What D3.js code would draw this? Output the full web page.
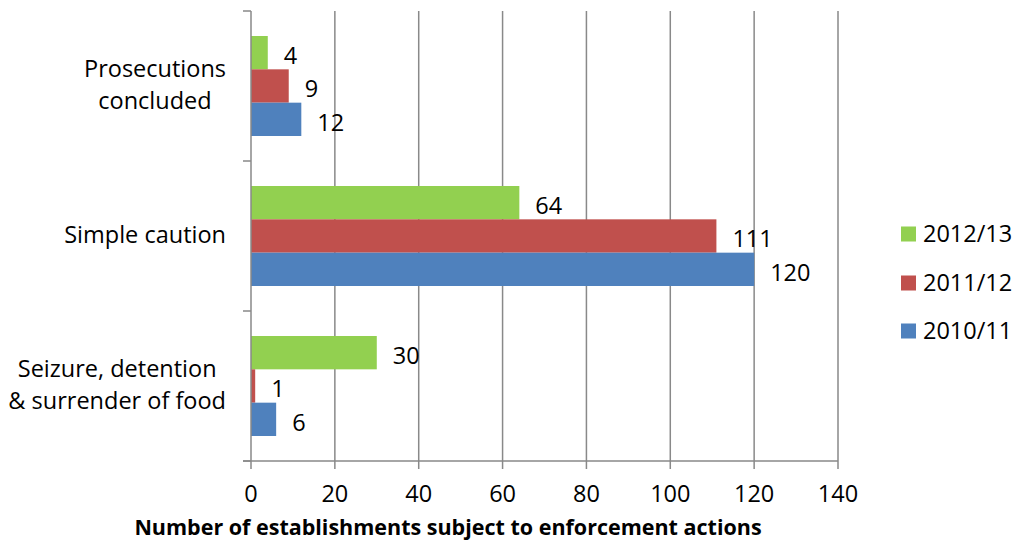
<!DOCTYPE html>
<html>
<head>
<meta charset="utf-8">
<script src="https://cdn.jsdelivr.net/npm/d3@7"></script>
<style>
  body { margin: 0; background: #fff; }
  text { font-family: "Open Sans", sans-serif; fill: #000; }
</style>
</head>
<body>
<div id="chart"></div>
<script>
var categories = [["Prosecutions", "concluded"], ["Simple caution"], ["Seizure, detention", "& surrender of food"]];
var seriesNames = ["2012/13", "2011/12", "2010/11"];
var seriesColors = ["#92D050", "#C0504D", "#4F81BD"];
var values2012 = [4, 64, 30];
var values2011 = [9, 111, 1];
var values2010 = [12, 120, 6];
var xTicks = [0, 20, 40, 60, 80, 100, 120, 140];
var axisTitle = "Number of establishments subject to enforcement actions";

var seriesValues = [values2012, values2011, values2010];

var width = 1019, height = 543;
var dims = {top: 11, left: 251, right: 838, bottom: 461};
var fontSize = "23.5px";

var svg = d3.select("#chart").append("svg")
    .attr("width", width)
    .attr("height", height);

var x = d3.scaleLinear().domain([0, 140]).range([dims.left, dims.right]);
var y = d3.scaleBand().domain(d3.range(categories.length)).range([dims.top, dims.bottom]);
var ySub = d3.scaleBand().domain(d3.range(seriesNames.length))
    .range([y.bandwidth() / 6, y.bandwidth() * 5 / 6]);

// gridlines
svg.append("g").selectAll("line")
    .data(xTicks.slice(1))
  .enter().append("line")
    .attr("x1", function(d){ return x(d); })
    .attr("x2", function(d){ return x(d); })
    .attr("y1", dims.top)
    .attr("y2", dims.bottom + 8)
    .style("stroke", "#898989")
    .style("stroke-width", 1.5);

// bars
var group = svg.append("g").selectAll(".cat")
    .data(categories)
  .enter().append("g")
    .attr("class", "cat")
    .attr("transform", function(d, i){ return "translate(0," + y(i) + ")"; });

group.each(function(c, ci){
  var g = d3.select(this);
  seriesNames.forEach(function(s, si){
    var v = seriesValues[si][ci];
    g.append("rect")
      .attr("x", x(0))
      .attr("y", ySub(si))
      .attr("width", x(v) - x(0))
      .attr("height", ySub.bandwidth())
      .style("fill", seriesColors[si]);
    g.append("text")
      .attr("x", x(v) + 16)
      .attr("y", ySub(si) + ySub.bandwidth() / 2 + 3)
      .attr("dy", "0.35em")
      .style("font-size", fontSize)
      .text(v);
  });
});

// y axis line and ticks
svg.append("line")
    .attr("x1", x(0)).attr("x2", x(0))
    .attr("y1", dims.top).attr("y2", dims.bottom + 8)
    .style("stroke", "#898989").style("stroke-width", 1.5);
svg.append("g").selectAll("line")
    .data(d3.range(categories.length + 1))
  .enter().append("line")
    .attr("x1", x(0) - 8).attr("x2", x(0))
    .attr("y1", function(d){ return dims.top + d * y.step(); })
    .attr("y2", function(d){ return dims.top + d * y.step(); })
    .style("stroke", "#898989").style("stroke-width", 1.5);

// x axis line
svg.append("line")
    .attr("x1", x(0) - 8).attr("x2", dims.right)
    .attr("y1", dims.bottom).attr("y2", dims.bottom)
    .style("stroke", "#898989").style("stroke-width", 1.5);

// x tick labels
svg.append("g").selectAll("text")
    .data(xTicks)
  .enter().append("text")
    .attr("x", function(d){ return x(d); })
    .attr("y", 494)
    .attr("dy", "0.35em")
    .attr("text-anchor", "middle")
    .style("font-size", fontSize)
    .text(function(d){ return d; });

// axis title
svg.append("text")
    .attr("x", 448)
    .attr("y", 527)
    .attr("dy", "0.35em")
    .attr("text-anchor", "middle")
    .style("font-size", "21.5px")
    .style("font-weight", "bold")
    .text(axisTitle);

// category labels: block right aligned, lines centered within
var labelRight = 226;
var lineHeight = 32;
categories.forEach(function(lines, ci){
  var t = svg.append("text")
      .attr("text-anchor", "middle")
      .style("font-size", fontSize);
  var spans = lines.map(function(l, li){
    return t.append("tspan").text(l);
  });
  var maxW = d3.max(spans, function(s){ return s.node().getComputedTextLength(); });
  var cy = y(ci) + y.bandwidth() / 2 - (lines.length - 1) * lineHeight / 2 - 1;
  spans.forEach(function(s, li){
    s.attr("x", labelRight - maxW / 2)
     .attr("y", cy + li * lineHeight)
     .attr("dy", "0.35em");
  });
});

// legend
var legendY = [234, 283, 331];
var legend = svg.append("g").selectAll(".legend")
    .data(seriesNames)
  .enter().append("g")
    .attr("class", "legend")
    .attr("transform", function(d, i){ return "translate(901," + legendY[i] + ")"; });
legend.append("rect")
    .attr("x", 0).attr("y", -7.5)
    .attr("width", 15).attr("height", 15)
    .style("fill", function(d, i){ return seriesColors[i]; });
legend.append("text")
    .attr("x", 22)
    .attr("y", 0)
    .attr("dy", "0.35em")
    .style("font-size", fontSize)
    .text(function(d){ return d; });
</script>
</body>
</html>
